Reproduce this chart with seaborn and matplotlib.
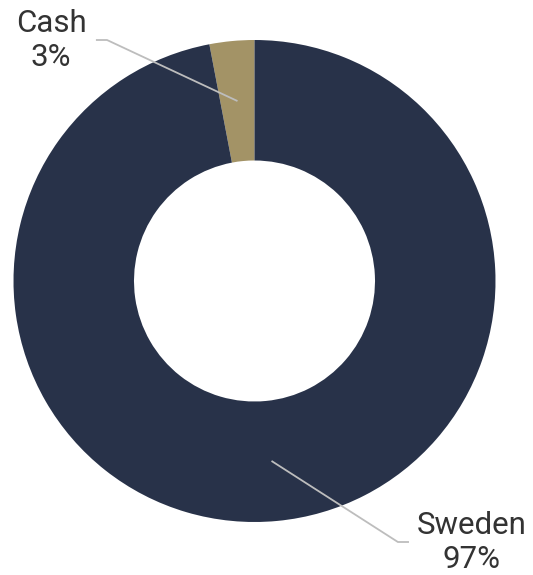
import matplotlib
matplotlib.use('Agg')

import numpy as np
import matplotlib.pyplot as plt
import seaborn as sns

# data
labels = ['Cash', 'Sweden']
shares = [3, 97]
colors = ['#a39366', '#283249']

# label placement (elbow point and text anchor, in axis units)
elbows = [(-0.612, 1.0), (0.595, -1.083)]
text_pos = [(-0.844, 0.996), (0.902, -1.087)]
line_ends = [-0.658, 0.641]

sns.set_theme(style='white')
plt.rcParams['font.family'] = ['Roboto', 'DejaVu Sans']

fig = plt.figure(figsize=(5.33, 5.75), dpi=100)
ax = fig.add_axes([0, 0, 1, 1])

wedges, _ = ax.pie(shares, colors=colors, startangle=90, counterclock=True,
                   radius=1.0, wedgeprops=dict(width=0.5, edgecolor='none'))

for w, lab, val, elb, tp, le in zip(wedges, labels, shares, elbows, text_pos, line_ends):
    mid = np.deg2rad((w.theta1 + w.theta2) / 2)
    x0, y0 = 0.75 * np.cos(mid), 0.75 * np.sin(mid)
    ax.plot([x0, elb[0], le], [y0, elb[1], elb[1]], color='#bdbdbd', lw=1.3,
            solid_capstyle='butt', zorder=3)
    ax.text(tp[0], tp[1], f'{lab}\n{val}%', ha='center', va='center',
            fontsize=22.5, color='#333333', linespacing=1.22)

ax.set_xlim(-254.5 / 241, (533 - 254.5) / 241)
ax.set_ylim(-(575 - 281) / 241, 281 / 241)
ax.set_aspect('auto')
ax.axis('off')

fig.savefig('out.png', dpi=100)
